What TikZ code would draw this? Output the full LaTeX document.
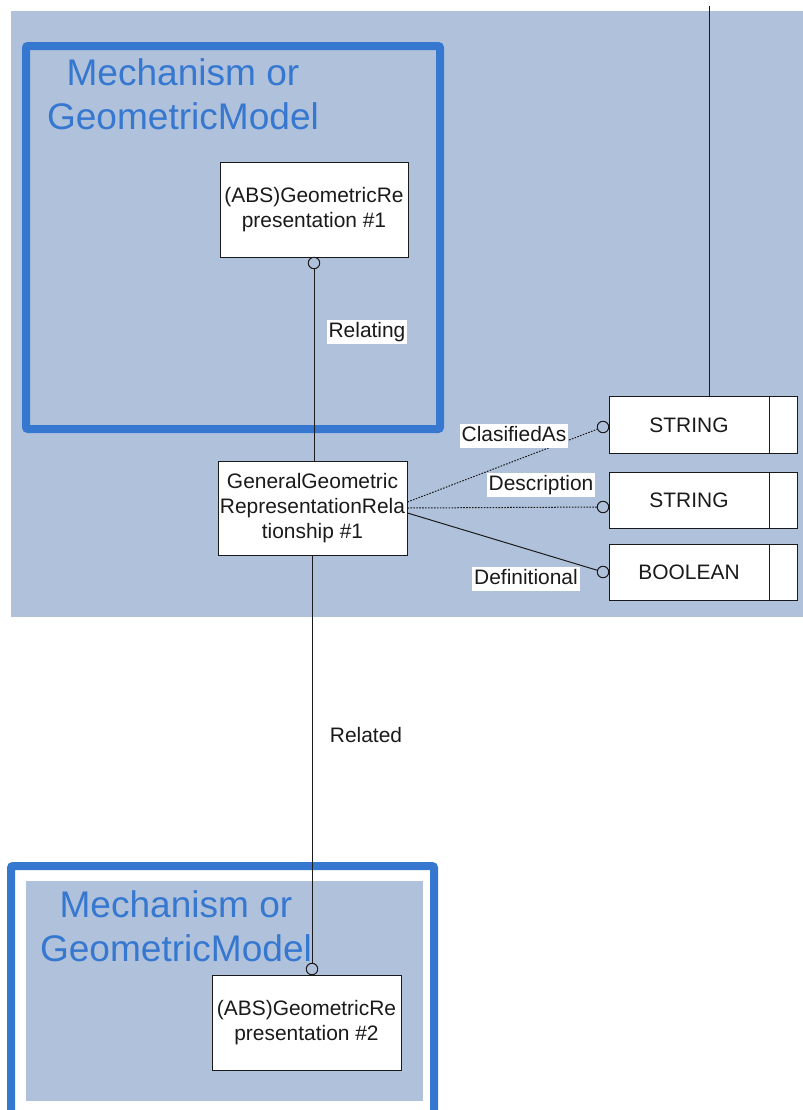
\documentclass[tikz,border=0pt]{standalone}
\usepackage{fontspec}
\setmainfont{Liberation Sans}
\definecolor{bgblue}{HTML}{B0C2DB}
\definecolor{frameblue}{HTML}{3677D0}
\definecolor{ink}{HTML}{1A1A1A}
\begin{document}
\begin{tikzpicture}[x=0.75pt,y=-0.75pt,
  box/.style={draw=ink, line width=0.75pt, fill=white, inner sep=0pt, align=center,
    font=\fontsize{15.7}{18.75}\selectfont, text=ink},
  entbox/.style={box, minimum width=141pt, minimum height=71.25pt},
  typebox/.style={box, minimum width=120pt, minimum height=42.5pt},
  typetail/.style={box, minimum width=21pt, minimum height=42.5pt},
  lbl/.style={fill=white, inner sep=1.5pt, text height=11.5pt, text depth=3.5pt,
    font=\fontsize{15.7}{18.75}\selectfont, text=ink},
  title/.style={anchor=base, text=frameblue, font=\fontsize{27.8}{33}\selectfont},
  frame/.style={draw=frameblue, line width=6pt, rounded corners=1.5pt},
  circ/.style={circle, draw=ink, line width=0.75pt, minimum size=8.6pt, inner sep=0pt},
  conn/.style={draw=ink, line width=0.75pt},
  dotconn/.style={conn, dash pattern=on 1.2pt off 1pt}]
\useasboundingbox (0,0) rectangle (803,1110);
\clip (0,0) rectangle (803,1110);
% backgrounds and frames
\fill[bgblue] (11,11) rectangle (803,617);
\draw[frame] (26,46) rectangle (440,429);
\draw[frame] (11,1130) -- (11,866) -- (434,866) -- (434,1130);
\fill[bgblue] (26,881) rectangle (423,1101);
% titles
\node[title] (t1a) at (183,85) {Mechanism or};
\node[title] (t1b) at (183,129) {GeometricModel};
\node[title] (t2a) at (176,917) {Mechanism or};
\node[title] (t2b) at (176,961) {GeometricModel};
% entity boxes
\node[entbox] (r1) at (314,209.5) {(ABS)GeometricRe\\presentation \#1};
\node[entbox, minimum width=141.75pt, minimum height=70.5pt] (gg) at (312.5,508)
  {GeneralGeometric\\RepresentationRela\\tionship \#1};
\node[entbox, minimum width=141.75pt] (r2) at (306.5,1022.5) {(ABS)GeometricRe\\presentation \#2};
% type boxes
\node[typebox] (s1) at (689,425) {STRING};
\node[typetail] (s1t) at (783,425) {};
\node[typebox] (s2) at (689,500.5) {STRING};
\node[typetail] (s2t) at (783,500.5) {};
\node[typebox] (s3) at (689,572.5) {BOOLEAN};
\node[typetail] (s3t) at (783,572.5) {};
% circles
\node[circ] (c1) at (314,263) {};
\node[circ] (c3) at (603,427) {};
\node[circ] (c4) at (603,507) {};
\node[circ] (c5) at (603,572) {};
\node[circ] (c6) at (312,969) {};
% connectors
\coordinate (top) at (709,6);
\draw[conn] (top) -- (top |- s1.north);
\draw[conn] (c1) -- (c1 |- gg.north);
\draw[conn] (gg.south -| c6) -- (c6);
\draw[dotconn] ([yshift=4.5pt]gg.east) -- (c3);
\draw[dotconn] (gg.east) -- (c4);
\draw[conn] ([yshift=-3.75pt]gg.east) -- (c5);
% labels
\node[lbl] (lrel1) at (367,332) {Relating};
\node[lbl] (lrel2) at (366,737) {Related};
\node[lbl] (lcl) at (514,436) {ClasifiedAs};
\node[lbl] (lde) at (541,485) {Description};
\node[lbl] (ldf) at (526,579) {Definitional};
\end{tikzpicture}
\end{document}
